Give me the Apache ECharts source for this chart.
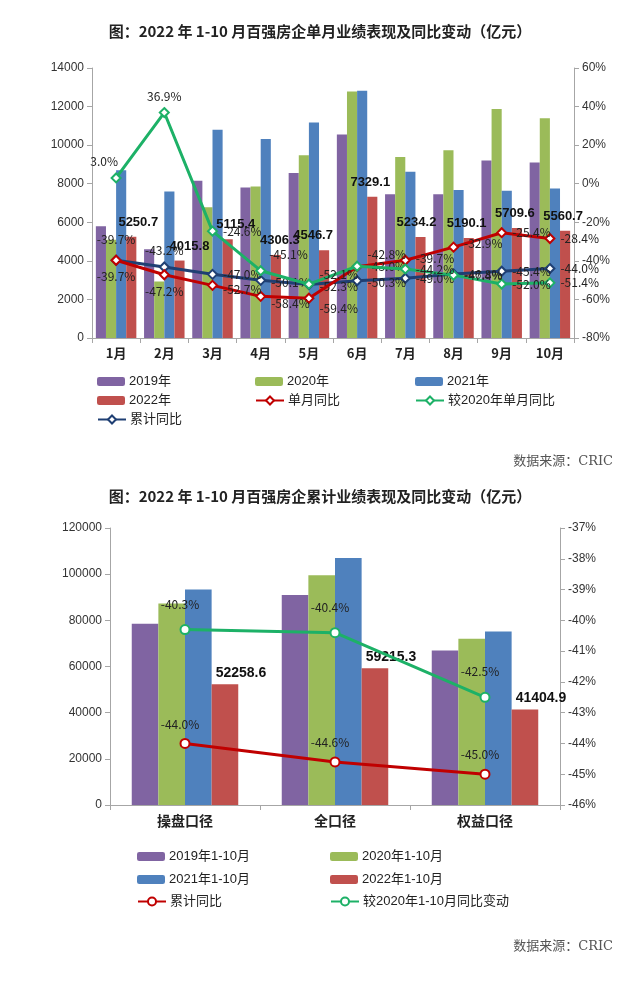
<!DOCTYPE html>
<html><head><meta charset="utf-8">
<script src="https://cdn.jsdelivr.net/npm/echarts@6/dist/echarts.min.js"></script>
<style>html,body{margin:0;padding:0;background:#fff;}#c1{width:640px;height:475px;}#c2{width:640px;height:506px;}</style>
</head><body><div id="c1"></div><div id="c2"></div>
<script>
// ---------- Data: chart 1 (monthly) ----------
const months = ['1月','2月','3月','4月','5月','6月','7月','8月','9月','10月'];
const sales2019 = [5800, 4600, 8150, 7800, 8550, 10550, 7450, 7450, 9200, 9100];
const sales2020 = [5100, 2930, 6780, 7850, 9480, 12780, 9380, 9730, 11880, 11400];
const sales2021 = [8700, 7600, 10800, 10320, 11180, 12820, 8620, 7680, 7630, 7750];
const sales2022 = [5250.7, 4015.8, 5115.4, 4306.3, 4546.7, 7329.1, 5234.2, 5190.1, 5709.6, 5560.7];
const monthlyYoY = [-39.7, -47.2, -52.7, -58.4, -59.4, -43.0, -39.7, -32.9, -25.4, -28.4];
const vs2020YoY = [3.0, 36.9, -24.6, -45.1, -52.1, -42.8, -44.2, -47.4, -52.0, -51.4];
const cumulativeYoY = [-39.7, -43.2, -47.0, -50.1, -52.3, -50.3, -49.0, -46.8, -45.4, -44.0];
const leftTicks1 = {min: 0, max: 14000, interval: 2000};
const rightTicks1 = {min: -80, max: 60, interval: 20};

// ---------- Data: chart 2 (cumulative) ----------
const scopes = ['操盘口径','全口径','权益口径'];
const cum2019 = [78500, 91000, 66900];
const cum2020 = [87300, 99500, 72000];
const cum2021 = [93400, 107000, 75200];
const cum2022 = [52258.6, 59215.3, 41404.9];
const cumYoY = [-44.0, -44.6, -45.0];
const cumVs2020 = [-40.3, -40.4, -42.5];
const leftTicks2 = {min: 0, max: 120000, interval: 20000};
const rightTicks2 = {min: -46, max: -37, interval: 1};

// ---------- Styles ----------
const C_PURPLE = '#8064A2', C_GREEN = '#9BBB59', C_BLUE = '#4F81BD', C_RED = '#C0504D';
const L_RED = '#C00000', L_GREEN = '#1DB167', L_NAVY = '#1F3F73';
const FONT = '"Liberation Sans","Noto Sans CJK SC",sans-serif';
const CJK = '"Noto Sans CJK SC",sans-serif';
const SERIF = '"DejaVu Serif","Noto Sans CJK SC",serif';

function pctLabels(values, positions, offsets) {
  return values.map((v, i) => ({
    value: v,
    label: {position: positions[i], offset: offsets ? offsets[i] : [0, 0]}
  }));
}
function legendAt(name, x, y, isLine) {
  return {
    data: [name], left: x, top: y, itemWidth: 28, itemHeight: isLine ? 10 : 9,
    itemGap: 0, padding: 0,
    textStyle: {fontSize: 13, color: '#222', fontFamily: FONT, padding: [0, 0, 0, -1]}
  };
}
function axisStyle() {
  return {
    axisLine: {show: true, lineStyle: {color: '#A6A6A6', width: 1}},
    axisTick: {show: true, length: 5, lineStyle: {color: '#A6A6A6'}},
    splitLine: {show: false}
  };
}
const pctFmt = v => v.toFixed(1) + '%';
const plainNum = v => String(v);
const labelBase = {show: true, fontSize: 12, color: '#222', fontFamily: CJK, formatter: p => pctFmt(p.value)};

// ---------- Chart 1 ----------
const redPos = ['bottom','bottom','right','right','right','right','right','right','right','right'];
const redOff = [[0,0],[0,0],[0,4],[0,7],[0,10],[0,0],[0,-2],[0,-4],[0,0],[0,0]];
const greenPos = ['top','top','right','right','right','right','right','right','right','right'];
const greenOff = [[-12,0],[0,0],[0,0],[-2,-16],[0,-10],[0,-12],[0,0],[0,0],[0,0],[0,0]];
const bluePos = ['top','top','right','right','right','right','right','right','right','right'];
const blueOff = [[0,-4],[0,0],[0,0],[0,2],[0,2],[0,2],[0,0],[0,0],[0,0],[0,0]];
const barLblOff = [[7,0],[10,0],[8,0],[4,0],[-11,0],[-2,0],[-4,0],[-2,0],[-2,0],[-2,0]];

const chart1 = echarts.init(document.getElementById('c1'), null, {renderer: 'canvas'});
chart1.setOption({
  animation: false,
  backgroundColor: '#fff',
  title: [
    {text: '图：2022 年 1-10 月百强房企单月业绩表现及同比变动（亿元）', left: 'center', top: 19,
      textStyle: {fontSize: 15, fontWeight: 'bold', color: '#222', fontFamily: CJK}},
    {text: '数据来源：CRIC', right: 22, top: 450,
      textStyle: {fontSize: 13, fontWeight: 'normal', color: '#555', fontFamily: SERIF}}
  ],
  legend: [
    legendAt('2019年', 97, 375, false),
    legendAt('2020年', 255, 375, false),
    legendAt('2021年', 415, 375, false),
    legendAt('2022年', 97, 394, false),
    legendAt('单月同比', 255, 394, true),
    legendAt('较2020年单月同比', 415, 394, true),
    legendAt('累计同比', 97, 413, true)
  ],
  grid: {left: 92, right: 66, top: 68, bottom: 137},
  xAxis: {
    type: 'category', data: months,
    ...axisStyle(),
    axisTick: {show: true, length: 5, alignWithLabel: false, lineStyle: {color: '#A6A6A6'}},
    axisLabel: {fontSize: 13, fontWeight: 'bold', color: '#222', fontFamily: CJK, margin: 9}
  },
  yAxis: [
    {type: 'value', ...leftTicks1, ...axisStyle(),
      axisLabel: {fontSize: 12, color: '#333', fontFamily: FONT, margin: 8, formatter: plainNum}},
    {type: 'value', ...rightTicks1, position: 'right', ...axisStyle(),
      axisLabel: {fontSize: 12, color: '#333', fontFamily: FONT, margin: 8, formatter: '{value}%'}}
  ],
  series: [
    {name: '2019年', type: 'bar', data: sales2019, itemStyle: {color: C_PURPLE}, barGap: '0%', barCategoryGap: '16%'},
    {name: '2020年', type: 'bar', data: sales2020, itemStyle: {color: C_GREEN}},
    {name: '2021年', type: 'bar', data: sales2021, itemStyle: {color: C_BLUE}},
    {name: '2022年', type: 'bar', itemStyle: {color: C_RED},
      data: sales2022.map((v, i) => ({value: v, label: {offset: barLblOff[i]}})),
      label: {show: true, position: 'top', distance: 8, fontSize: 13, fontWeight: 'bold', color: '#111', fontFamily: FONT,
        formatter: p => p.value.toFixed(1)}},
    {name: '单月同比', type: 'line', yAxisIndex: 1, z: 5,
      data: pctLabels(monthlyYoY, redPos, redOff),
      symbol: 'diamond', symbolSize: 9, showAllSymbol: true,
      lineStyle: {color: L_RED, width: 3}, itemStyle: {color: '#fff', borderColor: L_RED, borderWidth: 2},
      label: {...labelBase, distance: 5}},
    {name: '较2020年单月同比', type: 'line', yAxisIndex: 1, z: 6,
      data: pctLabels(vs2020YoY, greenPos, greenOff),
      symbol: 'diamond', symbolSize: 9,
      lineStyle: {color: L_GREEN, width: 3}, itemStyle: {color: '#fff', borderColor: L_GREEN, borderWidth: 2},
      label: {...labelBase, distance: 5}},
    {name: '累计同比', type: 'line', yAxisIndex: 1, z: 4,
      data: pctLabels(cumulativeYoY, bluePos, blueOff),
      symbol: 'diamond', symbolSize: 9,
      lineStyle: {color: L_NAVY, width: 3}, itemStyle: {color: '#fff', borderColor: L_NAVY, borderWidth: 2},
      label: {...labelBase, distance: 5}}
  ]
});

// ---------- Chart 2 ----------
const chart2 = echarts.init(document.getElementById('c2'), null, {renderer: 'canvas'});
chart2.setOption({
  animation: false,
  backgroundColor: '#fff',
  title: [
    {text: '图：2022 年 1-10 月百强房企累计业绩表现及同比变动（亿元）', left: 'center', top: 9,
      textStyle: {fontSize: 15, fontWeight: 'bold', color: '#222', fontFamily: CJK}},
    {text: '数据来源：CRIC', right: 22, top: 460,
      textStyle: {fontSize: 13, fontWeight: 'normal', color: '#555', fontFamily: SERIF}}
  ],
  legend: [
    legendAt('2019年1-10月', 137, 375, false),
    legendAt('2020年1-10月', 330, 375, false),
    legendAt('2021年1-10月', 137, 398, false),
    legendAt('2022年1-10月', 330, 398, false),
    legendAt('累计同比', 137, 420, true),
    legendAt('较2020年1-10月同比变动', 330, 420, true)
  ],
  grid: {left: 110, right: 80, top: 53, bottom: 176},
  xAxis: {
    type: 'category', data: scopes,
    ...axisStyle(),
    axisTick: {show: true, length: 5, alignWithLabel: false, lineStyle: {color: '#A6A6A6'}},
    axisLabel: {fontSize: 14, fontWeight: 'bold', color: '#222', fontFamily: CJK, margin: 9}
  },
  yAxis: [
    {type: 'value', ...leftTicks2, ...axisStyle(),
      axisLabel: {fontSize: 12, color: '#333', fontFamily: FONT, margin: 8, formatter: plainNum}},
    {type: 'value', ...rightTicks2, position: 'right', ...axisStyle(),
      axisLabel: {fontSize: 12, color: '#333', fontFamily: FONT, margin: 8, formatter: '{value}%'}}
  ],
  series: [
    {name: '2019年1-10月', type: 'bar', data: cum2019, itemStyle: {color: C_PURPLE}, barGap: '0%', barCategoryGap: '29%'},
    {name: '2020年1-10月', type: 'bar', data: cum2020, itemStyle: {color: C_GREEN}},
    {name: '2021年1-10月', type: 'bar', data: cum2021, itemStyle: {color: C_BLUE}},
    {name: '2022年1-10月', type: 'bar', data: cum2022, itemStyle: {color: C_RED},
      label: {show: true, position: 'top', distance: 4, offset: [16, 0], fontSize: 14, fontWeight: 'bold', color: '#111', fontFamily: FONT,
        formatter: p => p.value.toFixed(1)}},
    {name: '累计同比', type: 'line', yAxisIndex: 1, data: cumYoY, z: 5,
      symbol: 'circle', symbolSize: 9,
      lineStyle: {color: L_RED, width: 3}, itemStyle: {color: '#fff', borderColor: L_RED, borderWidth: 2},
      label: {...labelBase, position: 'top', distance: 8, offset: [-5, 0]}},
    {name: '较2020年1-10月同比变动', type: 'line', yAxisIndex: 1, data: cumVs2020, z: 5,
      symbol: 'circle', symbolSize: 9,
      lineStyle: {color: L_GREEN, width: 3}, itemStyle: {color: '#fff', borderColor: L_GREEN, borderWidth: 2},
      label: {...labelBase, position: 'top', distance: 14, offset: [-5, 0]}}
  ]
});
</script></body></html>
